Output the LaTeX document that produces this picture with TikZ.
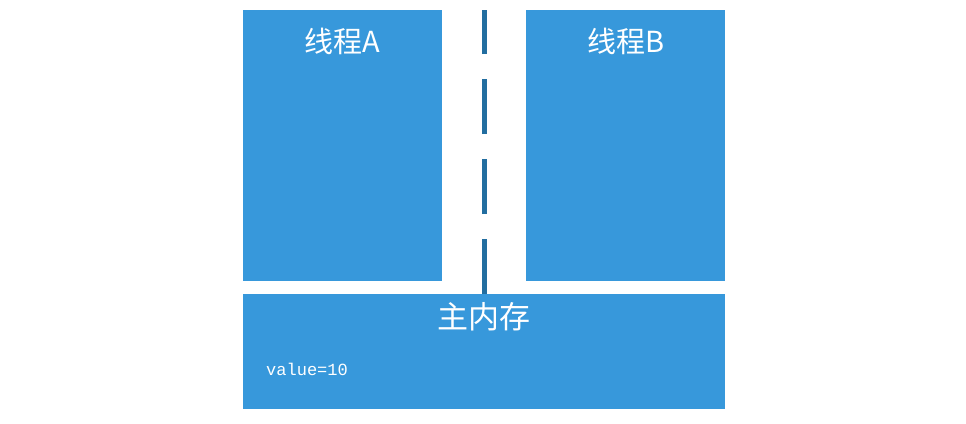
\documentclass[tikz,border=0pt]{standalone}
\usepackage{fontspec}
\setmainfont{Liberation Serif}
\newfontfamily\cjk{Noto Sans CJK SC}
\newfontfamily\monof{Liberation Mono}
\definecolor{boxblue}{HTML}{3798DB}
\definecolor{dashblue}{HTML}{226EA0}
\begin{document}
\begin{tikzpicture}[x=1pt,y=-1pt,
  panel/.style={fill=boxblue,draw=none},
  title/.style={text=white,font=\cjk\fontsize{29}{32}\selectfont,inner sep=0pt},
  divider/.style={draw=dashblue,line width=5pt,dash pattern=on 55pt off 25pt}]
\useasboundingbox[fill=white] (0,0) rectangle (966,423);
\path[panel] (243,10) rectangle (442,281);
\path[panel] (526,10) rectangle (725,281);
\path[panel] (243,294) rectangle (725,409);
\node[title] (ta) at (342,41) {线程A};
\node[title] (tb) at (626,41) {线程B};
\node[title,font=\cjk\fontsize{31}{34}\selectfont] (mem) at (484,317) {主内存};
\node[text=white,font=\monof\fontsize{17}{20}\selectfont,inner sep=0pt,anchor=west] (val) at (266,369) {value=10};
\coordinate (dbot) at (484.5,294);
\coordinate (dtop) at (484.5,10);
\draw[divider] (dbot) -- (dtop);
\end{tikzpicture}
\end{document}
